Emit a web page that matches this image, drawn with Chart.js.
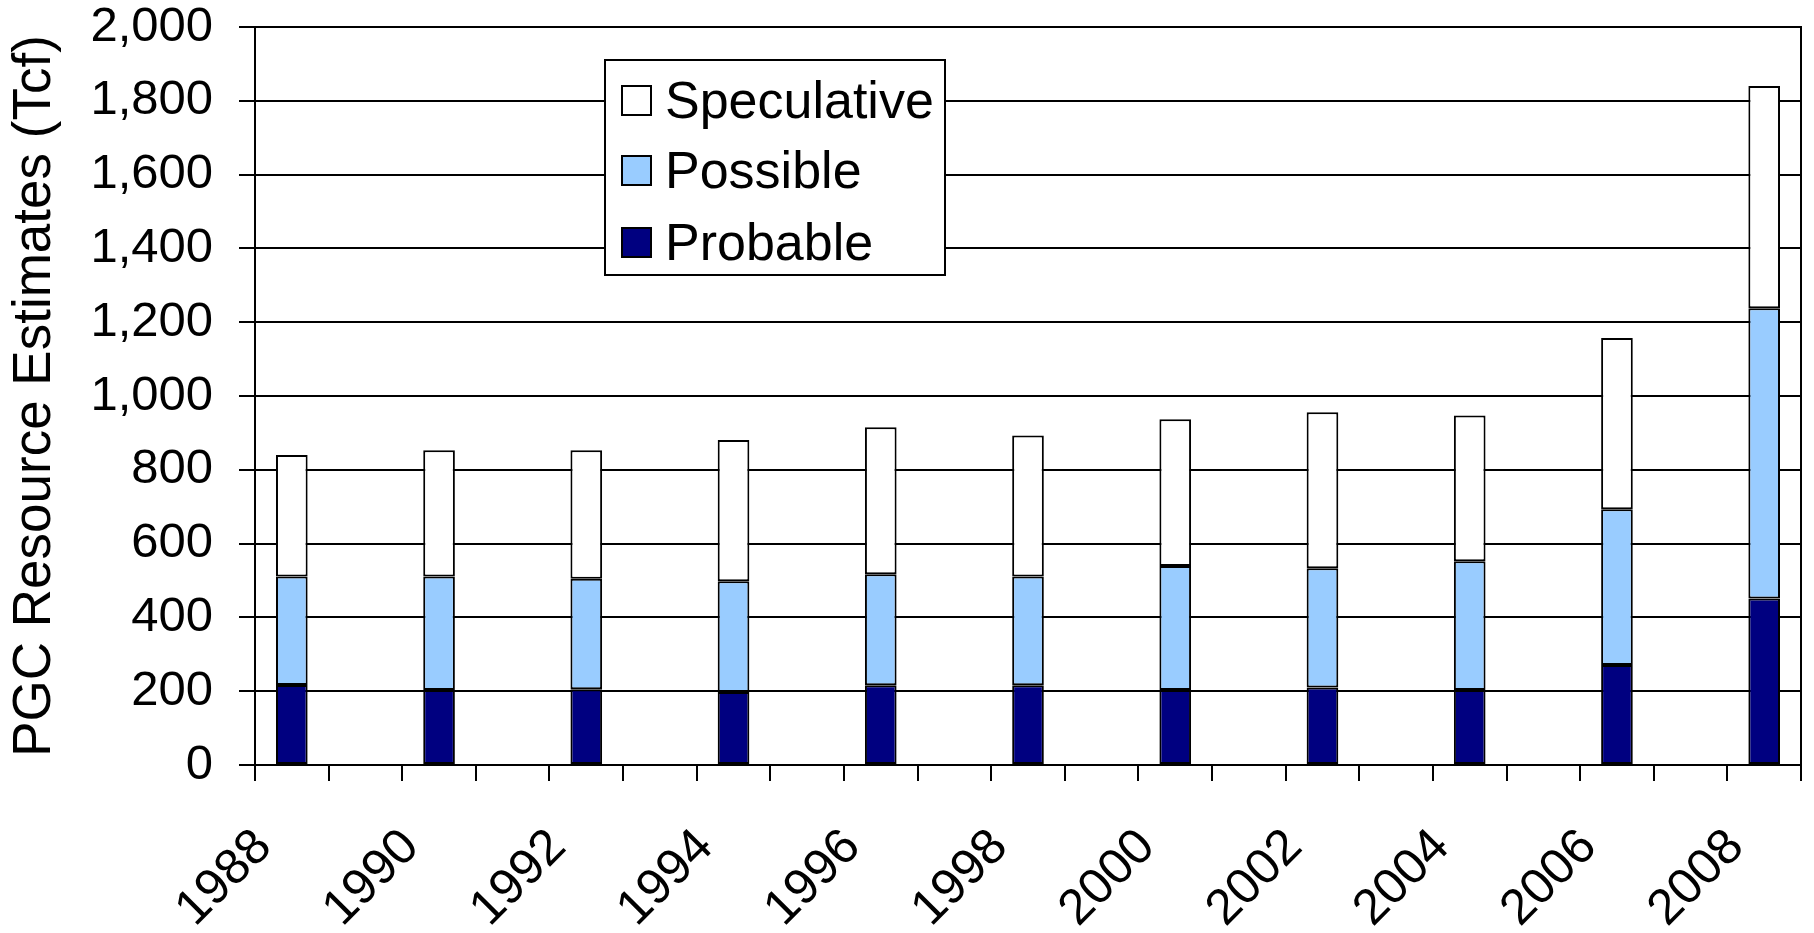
<!DOCTYPE html>
<html>
<head>
<meta charset="utf-8">
<script src="https://cdn.jsdelivr.net/npm/chart.js@4.4.0/dist/chart.umd.min.js"></script>
<style>
  html, body { margin: 0; padding: 0; background: #fff; }
  #wrap { position: relative; width: 1814px; height: 933px; }
  #legend {
    position: absolute; left: 604px; top: 59px; width: 338px; height: 213px;
    border: 2px solid #000; background: #fff; box-sizing: content-box;
    font-family: "Liberation Sans", Arial, sans-serif; font-size: 52px; color: #000;
  }
  .item { position: absolute; left: 15px; height: 60px; display: flex; align-items: center; }
  .sw { width: 27px; height: 27px; border: 2px solid #000; margin-right: 13px; }
</style>
</head>
<body>
<div id="wrap">
  <canvas id="c" width="1814" height="933"></canvas>
  <div id="legend"></div>
</div>
<script>
const years = ['1988','1989','1990','1991','1992','1993','1994','1995','1996','1997','1998',
               '1999','2000','2001','2002','2003','2004','2005','2006','2007','2008'];
const probable    = [217, null, 203, null, 205, null, 198, null, 216, null, 216, null, 203, null, 210, null, 203, null, 271, null, 451];
const possible    = [294, null, 308, null, 300, null, 300, null, 301, null, 295, null, 336, null, 323, null, 349, null, 422, null, 787];
const speculative = [329, null, 342, null, 348, null, 383, null, 398, null, 382, null, 398, null, 423, null, 395, null, 464, null, 602];
const yTicks = [0, 200, 400, 600, 800, 1000, 1200, 1400, 1600, 1800, 2000];

const FONT = '"Liberation Sans", Arial, sans-serif';

const barCommon = {
  borderColor: '#000',
  borderWidth: 2,
  borderSkipped: false,
  barPercentage: 0.43,
  categoryPercentage: 1.0
};

const chart = new Chart(document.getElementById('c'), {
  type: 'bar',
  data: {
    labels: years,
    datasets: [
      Object.assign({ label: 'Probable', data: probable, backgroundColor: '#000080' }, barCommon),
      Object.assign({ label: 'Possible', data: possible, backgroundColor: '#99CCFF' }, barCommon),
      Object.assign({ label: 'Speculative', data: speculative, backgroundColor: '#FFFFFF' }, barCommon)
    ]
  },
  options: {
    responsive: false,
    animation: false,
    layout: { padding: { top: 0, right: 13, left: 0, bottom: 0 } },
    plugins: {
      legend: { display: false },
      tooltip: { enabled: false }
    },
    scales: {
      x: {
        stacked: true,
        offset: true,
        afterFit: s => { s.height = 168; s.paddingLeft = 0; s.paddingRight = 0; },
        grid: {
          display: true, drawOnChartArea: false, offset: true,
          drawTicks: true, tickLength: 16, color: '#000', lineWidth: 2
        },
        border: { display: true, color: '#000', width: 2 },
        ticks: {
          autoSkip: false, maxRotation: 45, minRotation: 45,
          color: '#000', font: { family: FONT, size: 50 }, padding: 37,
          labelOffset: -28,
          callback: function(v, i) { return i % 2 === 0 ? years[i] : ''; }
        }
      },
      y: {
        stacked: true,
        min: 0, max: 2000,
        afterFit: s => { s.width = 255; s.paddingTop = 27; s.paddingBottom = 0; },
        afterBuildTicks: s => { s.ticks = yTicks.map(v => ({ value: v })); },
        grid: { color: '#000', lineWidth: 2, drawTicks: true, tickLength: 16 },
        border: { display: true, color: '#000', width: 2 },
        ticks: {
          color: '#000', font: { family: FONT, size: 49 }, padding: 26,
          callback: v => v.toLocaleString('en-US')
        },
        title: {
          display: true, text: 'PGC Resource Estimates (Tcf)',
          color: '#000', font: { family: FONT, size: 53, weight: 'normal' },
          padding: { top: 4, bottom: 0 }
        }
      },
      y2: {
        position: 'right',
        min: 0, max: 2000,
        afterFit: s => { s.width = 0; s.paddingTop = 0; s.paddingBottom = 0; },
        grid: { drawOnChartArea: false, drawTicks: false },
        border: { display: true, color: '#000', width: 2 },
        ticks: { display: false }
      }
    }
  }
});

// HTML legend built from the chart's own datasets (reverse order, like the original)
const legendEl = document.getElementById('legend');
const rowsTop = [9, 79, 151];
chart.data.datasets.slice().reverse().forEach((ds, i) => {
  const item = document.createElement('div');
  item.className = 'item';
  item.style.top = rowsTop[i] + 'px';
  const sw = document.createElement('span');
  sw.className = 'sw';
  sw.style.background = ds.backgroundColor;
  const t = document.createElement('span');
  t.textContent = ds.label;
  item.appendChild(sw);
  item.appendChild(t);
  legendEl.appendChild(item);
});
</script>
</body>
</html>
